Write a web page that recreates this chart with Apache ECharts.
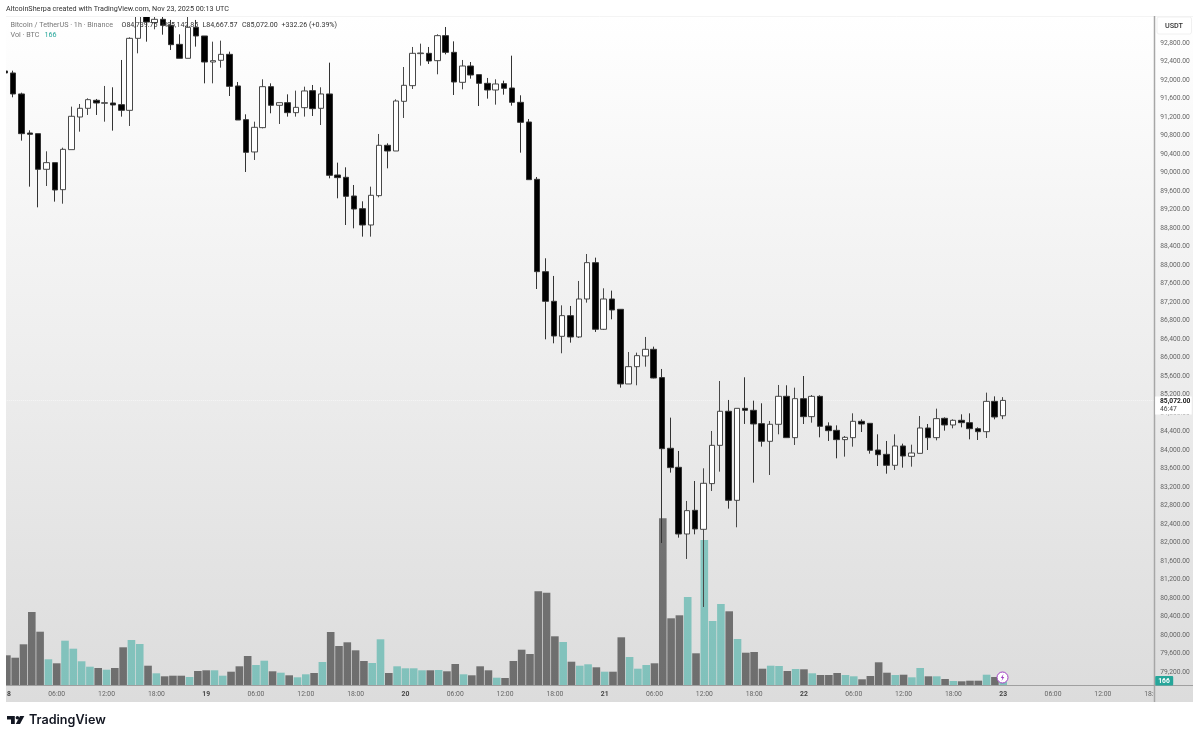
<!DOCTYPE html>
<html><head><meta charset="utf-8">
<style>html,body{margin:0;padding:0;background:#fff}#c{width:1200px;height:738px}</style>
<script src="https://cdn.jsdelivr.net/npm/echarts@6/dist/echarts.min.js"></script>
</head><body><div id="c"></div>
<script>
const opens=[92195,92152,91698,90854,90840,90069,90213,89629,90494,91200,91388,91561,91496,91503,91467,91344,92901,93427,93240,93312,93182,92771,92469,93139,92952,92389,92426,92555,91871,91143,90444,90970,91856,91453,91510,91294,91402,91770,91388,91698,89946,89896,89492,89218,88865,89500,90588,90465,91539,91878,92570,92577,92418,92959,92598,91950,92303,92116,91928,91784,91921,91827,91517,91092,89853,87856,87215,86458,86905,86444,87265,88051,86610,87265,87042,85428,85802,86033,86177,85565,84037,83626,82184,82696,82285,83273,84101,84837,82912,84901,84858,84570,84188,84556,85161,84267,85110,84721,85160,84519,84425,84224,84267,84620,84577,84000,83906,83669,84087,83863,83928,84476,84267,84685,84541,84642,84591,84461,84396,85052,84740];
const closes=[92152,91698,90840,90826,90069,90213,89622,90501,91215,91388,91575,91503,91510,91460,91344,92901,93427,93254,93312,93182,92764,92469,93139,92952,92389,92418,92555,91863,91135,90436,90977,91856,91453,91510,91294,91409,91763,91381,91698,89939,89889,89485,89211,88865,89507,90588,90465,91546,91885,92577,92584,92411,92959,92598,91957,92303,92108,91928,91784,91914,91820,91517,91085,89845,87856,87215,86465,86905,86444,87265,88051,86610,87265,87028,85428,85802,86040,86177,85557,84029,83619,82184,82689,82293,83280,84101,84837,82912,84901,84858,84563,84188,84556,85161,84267,85110,84721,85160,84512,84418,84224,84274,84620,84562,83993,83899,83669,84087,83870,83935,84476,84267,84678,84541,84642,84591,84461,84396,85052,84714,85072];
const lows=[92130,91626,90689,89694,89247,89708,89370,89326,90494,90883,91244,91244,91099,90905,91208,91006,92577,92829,93096,92980,92649,92469,92469,92721,91928,91928,92267,91654,91135,90011,90271,90955,91280,91049,91208,91208,91208,91222,91027,89874,89442,88865,88793,88613,88613,89463,90090,90465,91179,91806,92310,92346,92123,92555,91676,91799,92029,91438,91597,91467,91683,91445,90429,89838,87481,86393,86307,86091,86321,86422,87186,86552,86595,86826,85348,85428,85399,85802,85550,81990,83511,82105,81644,82177,80606,83114,83532,82732,82329,84563,83294,84073,83460,84339,84267,84109,84562,84591,84274,84195,83820,83856,84072,84389,83921,83654,83488,83568,83618,83640,83928,84000,84209,84418,84469,84490,84231,84216,84260,84663,84667.57];
const highs=[92240,92202,91726,90912,90840,90458,90213,90537,91424,91481,91604,91590,91871,91842,92433,92923,93557,93513,93384,93470,93298,92988,93500,93298,92952,92829,92851,92613,91957,91258,91099,92015,91928,91510,91690,91770,91856,91892,91842,92375,90213,90112,89730,89377,89694,90833,90631,91582,92281,92714,92786,92714,92988,93146,92836,92433,92389,92116,92044,92015,91986,92526,91669,91157,89903,88145,87763,87128,87114,87655,88238,88159,87496,87446,87042,86119,86105,86444,86235,85752,84700,83979,82898,83330,83604,84411,85492,85082,84901,85572,85067,85010,84628,85406,85399,85348,85600,85189,85182,84598,84533,84303,84793,84663,84577,84339,84195,84339,84137,84115,84735,84562,84894,84706,84663,84771,84793,84490,85240,85160,85142.85];
const volumes=[594,546,814,1460,1066,514,434,886,726,474,366,340,306,340,754,900,820,386,234,174,186,186,160,280,294,294,186,266,374,580,400,486,274,246,194,154,214,240,460,1060,780,854,694,480,440,914,240,374,334,334,294,294,300,274,420,214,194,374,294,146,140,480,706,620,1874,1846,974,860,466,386,414,354,266,266,954,560,326,400,434,3334,1334,1394,1760,634,2900,1280,1620,1474,920,646,660,326,386,380,280,320,314,234,200,200,240,200,174,114,180,454,246,200,206,154,340,174,174,120,80,74,86,86,206,160,166];
const dayLabels=['18','19','20','21','22','23','24'];
const priceTicks=[79200,79600,80000,80400,80800,81200,81600,82000,82400,82800,83200,83600,84000,84400,84800,85200,85600,86000,86400,86800,87200,87600,88000,88400,88800,89200,89600,90000,90400,90800,91200,91600,92000,92400,92800];
const TOTAL_HOURS=139, LAST_CLOSE=85072;

const categories=[];
for(let i=0;i<TOTAL_HOURS;i++){const h=i%24;categories.push(h===0?dayLabels[i/24]:String(h).padStart(2,'0')+':00');}
const candleData=opens.map((o,i)=>[o,closes[i],lows[i],highs[i]]);
const volData=volumes.map((v,i)=>({value:v,itemStyle:{color:closes[i]>=opens[i]?'rgba(38,166,154,0.5)':'rgba(0,0,0,0.5)'}}));

const BW=8.317, L=0.74, W=BW*TOTAL_HOURS;
const grad=()=>new echarts.graphic.LinearGradient(0,0,0,1,[{offset:0,color:'#ffffff'},{offset:1,color:'#dcdcdc'}]);
const ff='Roboto,"Noto Sans",sans-serif';
const chart=echarts.init(document.getElementById('c'),null,{renderer:'canvas'});
chart.setOption({
  animation:false,backgroundColor:'#fff',
  grid:[{left:L,top:6,width:W,height:684.5,containLabel:false},{left:L,top:16,width:W,height:669}],
  xAxis:[
    {type:'category',gridIndex:0,data:categories,show:false,boundaryGap:true},
    {type:'category',gridIndex:1,data:categories,boundaryGap:true,z:1,
     axisLine:{show:false},axisTick:{show:false},splitLine:{show:false},
     axisLabel:{show:true,margin:5.5,fontSize:6.8,fontFamily:ff,color:'#666',hideOverlap:false,showMinLabel:true,
       interval:(i)=>i%6===0,
       formatter:(v)=>v.indexOf(':')<0?'{d|'+v+'}':v,
       rich:{d:{fontSize:6.8,fontFamily:ff,fontWeight:'bold',color:'#444'}}}}
  ],
  yAxis:[
    {type:'value',gridIndex:0,position:'right',min:78800,max:93600,interval:400,scale:true,z:60,
     axisLine:{show:false},axisTick:{show:false},splitLine:{show:false},
     axisLabel:{show:true,margin:3.5,padding:[2,0,0,0],fontSize:6.7,fontFamily:ff,color:'#666',hideOverlap:false,customValues:priceTicks,
       formatter:(v)=>v.toLocaleString('en-US',{minimumFractionDigits:2,maximumFractionDigits:2})}},
    {type:'value',gridIndex:1,min:0,max:13380,show:false,splitLine:{show:false}}
  ],
  series:[
    {type:'bar',xAxisIndex:1,yAxisIndex:1,data:volData,barWidth:7.6,z:5,silent:true},
    {type:'candlestick',xAxisIndex:0,yAxisIndex:0,data:candleData,barWidth:6,z:10,silent:true,
     itemStyle:{color:'#fff',color0:'#000',borderColor:'#484848',borderColor0:'#333',borderWidth:1},
     markLine:{silent:true,symbol:'none',label:{show:false},animation:false,
       lineStyle:{color:'#fff',width:1,type:'dotted',opacity:0.55},data:[{yAxis:LAST_CLOSE}]}}
  ],
  graphic:[
    {type:'rect',z:0,shape:{x:6,y:16,width:1187,height:686},style:{fill:grad()}},
    {type:'rect',z:50,shape:{x:0,y:0,width:6,height:738},style:{fill:'#fff'}},
    {type:'rect',z:50,shape:{x:0,y:0,width:1200,height:16},style:{fill:'#fff'}},
    {type:'rect',z:50,shape:{x:1154,y:16,width:39,height:686},style:{fill:grad()}},
    {type:'line',z:55,shape:{x1:6,y1:16.5,x2:1193,y2:16.5},style:{stroke:'#f4f4f4',lineWidth:1}},
    {type:'line',z:55,shape:{x1:1154.5,y1:16,x2:1154.5,y2:702},style:{stroke:'#a6a6a6',lineWidth:1.5}},
    {type:'line',z:55,shape:{x1:6,y1:685.5,x2:1193,y2:685.5},style:{stroke:'#a0a0a0',lineWidth:1}},
    {type:'text',z:70,x:6,y:9,style:{text:'AltcoinSherpa created with TradingView.com, Nov 23, 2025 00:13 UTC',fontSize:7.2,fontFamily:ff,fill:'#333',verticalAlign:'middle'}},
    {type:'text',z:70,x:10.5,y:25,style:{text:'Bitcoin / TetherUS · 1h · Binance',verticalAlign:'middle',fontFamily:ff,fontSize:7.2,fill:'#777'}},
    ...[['O84,739.75',121.5],['H85,142.85',162],['L84,667.57',202.5],['C85,072.00',242],['+332.26 (+0.39%)',281.5]].map(([t,x])=>(
      {type:'text',z:70,x:x,y:25,style:{text:t,verticalAlign:'middle',fontFamily:ff,fontSize:7.1,fill:'#333'}})),
    {type:'text',z:70,x:10.5,y:35,style:{text:'Vol · BTC',verticalAlign:'middle',fontFamily:ff,fontSize:7.2,fill:'#777'}},
    {type:'text',z:70,x:44.5,y:35,style:{text:'166',verticalAlign:'middle',fontFamily:ff,fontSize:7.2,fill:'#26a69a'}},
    {type:'rect',z:70,shape:{x:1157,y:17,width:34.5,height:17,r:2},style:{fill:'#fff',stroke:'#f0f0f0'}},
    {type:'text',z:71,x:1174,y:26,style:{text:'USDT',align:'center',verticalAlign:'middle',fontSize:7.2,fontFamily:ff,fontWeight:500,fill:'#333'}},
    {type:'rect',z:70,shape:{x:1155.2,y:396.5,width:36.5,height:18},style:{fill:'#fff'}},
    {type:'text',z:71,x:1160,y:401.5,style:{text:'85,072.00',verticalAlign:'middle',fontSize:6.7,fontWeight:'bold',fontFamily:ff,fill:'#222'}},
    {type:'text',z:71,x:1160,y:409.5,style:{text:'46:47',verticalAlign:'middle',fontSize:6.7,fontFamily:ff,fill:'#444'}},
    {type:'rect',z:70,shape:{x:1155.2,y:676,width:18,height:9.5,r:1},style:{fill:'#26a69a'}},
    {type:'text',z:71,x:1164,y:681,style:{text:'166',align:'center',verticalAlign:'middle',fontSize:6.7,fontWeight:'bold',fontFamily:ff,fill:'#fff'}},
    {type:'circle',z:45,shape:{cx:1002.5,cy:677.5,r:5.5},style:{fill:'#fff',stroke:'#a23fc4',lineWidth:1}},
    {type:'polygon',z:46,shape:{points:[[1003.5,674],[1000.8,678],[1002.4,678],[1001.5,681],[1004.3,677],[1002.7,677]]},style:{fill:'#a23fc4'}},
    {type:'polygon',z:70,shape:{points:[[7,716],[14.8,716],[14.8,724],[11,724],[11,719.4],[7,719.4]]},style:{fill:'#131722'}},
    {type:'circle',z:70,shape:{cx:17.4,cy:717.7,r:1.8},style:{fill:'#131722'}},
    {type:'polygon',z:70,shape:{points:[[20,716],[24.3,716],[20,724],[15.8,724]]},style:{fill:'#131722'}},
    {type:'text',z:70,x:29,y:720.5,style:{text:'TradingView',verticalAlign:'middle',fontSize:12.6,fontWeight:600,fontFamily:'Inter,Roboto,sans-serif',fill:'#131722'}}
  ]
});
</script></body></html>
